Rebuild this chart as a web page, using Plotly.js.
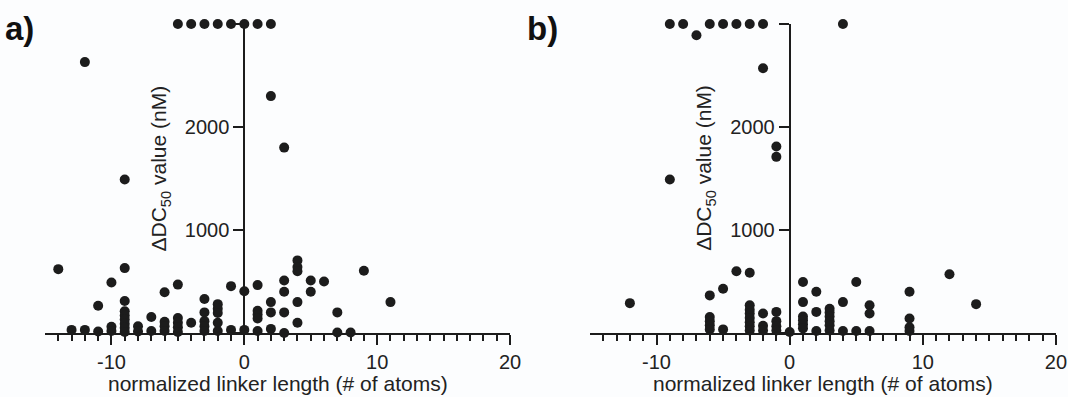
<!DOCTYPE html>
<html>
<head>
<meta charset="utf-8">
<script src="https://cdn.plot.ly/plotly-3.0.1.min.js"></script>
<style>html,body{margin:0;padding:0;background:#fcfdfe;}#chart{width:1068px;height:397px;}</style>
</head>
<body>
<div id="chart"></div>
<script>
// Panel a: normalized linker length vs ΔDC50 (nM)
const aX = [-14,-13,-12,-12,-11,-11,-10,-10,-10,
  -9,-9,-9,-9,-9,-9,-9,-9,-9,
  -8,-8,-7,-7,-6,-6,-6,-6,
  -5,-5,-5,-5,-5,-5,-4,-4,
  -3,-3,-3,-3,-3,-3,-2,-2,-2,-2,-2,-2,
  -1,-1,-1,0,0,0,
  1,1,1,1,1,1,2,2,2,2,2,
  3,3,3,3,3,4,4,4,4,4,5,5,6,7,7,8,9,11];
const aY = [620,30,2630,30,265,15,490,60,20,
  1490,630,310,210,170,130,90,50,10,
  65,15,155,20,395,110,65,20,
  3000,470,145,100,55,10,3000,100,
  3000,330,200,115,65,20,3000,280,235,195,100,20,
  3000,455,30,3000,405,30,
  3000,465,215,180,140,20,3000,2300,300,200,40,
  1800,510,400,200,0,705,640,600,300,100,510,400,500,200,5,5,605,300];

// Panel b
const bX = [-12,-9,-9,-8,-7,
  -6,-6,-6,-6,-6,-6,-5,-5,-5,-4,-4,
  -3,-3,-3,-3,-3,-3,-3,-3,-3,
  -2,-2,-2,-2,-2,-1,-1,-1,-1,-1,-1,0,
  1,1,1,1,1,1,2,2,2,3,3,3,3,3,3,
  4,4,4,5,5,6,6,6,9,9,9,9,12,14];
const bY = [290,3000,1490,3000,2890,
  3000,365,155,115,75,35,3000,430,35,3000,600,
  3000,585,270,225,190,145,105,65,25,
  3000,2570,190,70,25,1810,1710,205,115,65,25,10,
  495,300,160,125,85,45,400,205,20,235,200,160,115,75,25,
  3000,300,20,495,20,270,190,20,400,140,55,20,570,280];

const xTickVals = [-10, 0, 10, 20];
const xTickText = ['-10', '0', '10', '20'];
const yTickVals = [0, 1000, 2000, 3000];
const yTickText = ['', '1000', '2000', ''];
const xRange = [-15, 20];
const yRange = [0, 3000];
const panelLabels = ['a)', 'b)'];
const xTitle = 'normalized linker length (# of atoms)';
const yTitle = 'ΔDC<sub>50</sub> value (nM)';

const ink = '#1c1c1c';
const font = 'Liberation Sans, Arial, sans-serif';
const domA = [0, 0.46];
const domB = [0.539, 1];
function zeroPos(dom) {
  return dom[0] + (0 - xRange[0]) / (xRange[1] - xRange[0]) * (dom[1] - dom[0]);
}
const minorVals = [];
for (let v = -14; v <= 20; v++) if (xTickVals.indexOf(v) < 0) minorVals.push(v);

function xAxis(dom, anchor) {
  return {
    domain: dom, anchor: anchor, range: xRange, showgrid: false, zeroline: false,
    showline: true, linecolor: ink, linewidth: 2, layer: 'below traces',
    tickmode: 'array', tickvals: xTickVals, ticktext: xTickText,
    ticks: 'outside', ticklen: 10, tickwidth: 2, tickcolor: ink,
    tickfont: {family: font, size: 20, color: '#222'},
    minor: {tickmode: 'array', tickvals: minorVals, ticks: 'outside', ticklen: 6, tickwidth: 2, tickcolor: ink, showgrid: false},
    automargin: false, fixedrange: true
  };
}
function yAxis(pos) {
  return {
    anchor: 'free', position: pos, domain: [0, 1], range: yRange, showgrid: false, zeroline: false,
    showline: true, linecolor: ink, linewidth: 2, layer: 'below traces',
    tickmode: 'array', tickvals: yTickVals, ticktext: yTickText,
    ticks: 'outside', ticklen: 10, tickwidth: 2, tickcolor: ink,
    tickfont: {family: font, size: 20, color: '#222'},
    automargin: false, fixedrange: true
  };
}

const mk = {size: 10, color: ink, line: {width: 0}};
const traces = [
  {x: aX, y: aY, type: 'scatter', mode: 'markers', marker: mk, xaxis: 'x', yaxis: 'y', cliponaxis: false, hoverinfo: 'x+y'},
  {x: bX, y: bY, type: 'scatter', mode: 'markers', marker: mk, xaxis: 'x2', yaxis: 'y2', cliponaxis: false, hoverinfo: 'x+y'}
];

const annotations = [];
[['x', 'y'], ['x2', 'y2']].forEach(function (ax, i) {
  annotations.push({xref: ax[0], yref: ax[1], x: 0, y: 1600, xshift: -84, text: yTitle, textangle: -90,
    showarrow: false, xanchor: 'center', yanchor: 'middle', font: {family: font, size: 21, color: '#222'}});
  annotations.push({xref: ax[0], yref: 'paper', x: (xRange[0] + xRange[1]) / 2, y: -0.162, text: xTitle,
    showarrow: false, xanchor: 'center', yanchor: 'middle', font: {family: font, size: 21, color: '#222'}});
});
annotations.push({xref: 'paper', yref: 'paper', x: -42 / 1011, y: 1, yshift: -4, text: '<b>' + panelLabels[0] + '</b>',
  showarrow: false, xanchor: 'left', yanchor: 'middle', font: {family: font, size: 33, color: '#111'}});
annotations.push({xref: 'paper', yref: 'paper', x: (525 - 45) / 1011, y: 1, yshift: -4, text: '<b>' + panelLabels[1] + '</b>',
  showarrow: false, xanchor: 'left', yanchor: 'middle', font: {family: font, size: 33, color: '#111'}});

const layout = {
  width: 1068, height: 397,
  margin: {l: 45, r: 12, t: 24, b: 64},
  paper_bgcolor: '#fcfdfe', plot_bgcolor: '#fcfdfe',
  showlegend: false,
  xaxis: xAxis(domA, 'y'), yaxis: yAxis(zeroPos(domA)),
  xaxis2: xAxis(domB, 'y2'), yaxis2: yAxis(zeroPos(domB)),
  annotations: annotations,
  font: {family: font, color: '#222'}
};
Plotly.newPlot('chart', traces, layout, {displayModeBar: false, staticPlot: true});
</script>
</body>
</html>
